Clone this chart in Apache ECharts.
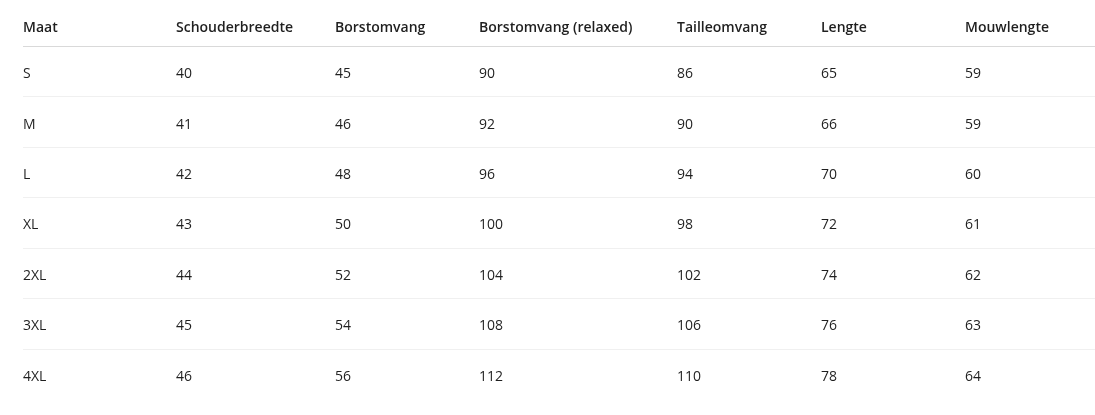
<!DOCTYPE html>
<html>
<head>
<meta charset="utf-8">
<script src="https://cdn.jsdelivr.net/npm/echarts@6/dist/echarts.min.js"></script>
<style>
  html, body { margin: 0; padding: 0; background: #fff; }
  #chart { width: 1095px; height: 415px; }
</style>
</head>
<body>
<div id="chart"></div>
<script>
var headers = ['Maat', 'Schouderbreedte', 'Borstomvang', 'Borstomvang (relaxed)', 'Tailleomvang', 'Lengte', 'Mouwlengte'];
var sizes = ['S', 'M', 'L', 'XL', '2XL', '3XL', '4XL'];
var schouderbreedte = [40, 41, 42, 43, 44, 45, 46];
var borstomvang = [45, 46, 48, 50, 52, 54, 56];
var borstomvangRelaxed = [90, 92, 96, 100, 104, 108, 112];
var tailleomvang = [86, 90, 94, 98, 102, 106, 110];
var lengte = [65, 66, 70, 72, 74, 76, 78];
var mouwlengte = [59, 59, 60, 61, 62, 63, 64];

// layout: left edge of each column in pixels
var colX = [23, 176, 335, 479, 677, 821, 965];
var font = '"Open Sans", "Noto Sans", sans-serif';

var columns = [sizes, schouderbreedte, borstomvang, borstomvangRelaxed, tailleomvang, lengte, mouwlengte];
var cells = [];
sizes.forEach(function (s, r) {
    columns.forEach(function (col, c) {
        cells.push([c, s, String(col[r])]);
    });
});

var chart = echarts.init(document.getElementById('chart'));
chart.setOption({
    animation: false,
    grid: { left: 0, right: 0, top: 46, bottom: 16 },
    xAxis: { type: 'value', min: 0, max: 6, show: false },
    yAxis: { type: 'category', data: sizes, inverse: true, show: false },
    graphic: headers.map(function (h, i) {
        return {
            type: 'text', left: colX[i], top: 21,
            style: { text: h, font: '600 14px ' + font, fill: '#1f1f1f' }
        };
    }).concat([{
        type: 'rect', shape: { x: 23, y: 46, width: 1072, height: 1 },
        style: { fill: '#d9d9d9' }
    }]),
    series: [{
        type: 'custom',
        data: cells,
        renderItem: function (params, api) {
            var c = api.value(0);
            var p = api.coord([0, api.value(1)]);
            var band = api.size([0, 1])[1];
            var children = [{
                type: 'text',
                style: {
                    x: colX[c], y: p[1] + 3, text: cells[params.dataIndex][2],
                    font: '14px ' + font, fill: '#1f1f1f', verticalAlign: 'middle'
                }
            }];
            if (c === 0 && params.dataIndex < cells.length - columns.length) {
                children.push({
                    type: 'rect',
                    shape: { x: 23, y: Math.round(p[1] + band / 2), width: 1072, height: 1 },
                    style: { fill: '#f0f0f0' }
                });
            }
            return { type: 'group', children: children };
        }
    }]
});
</script>
</body>
</html>
